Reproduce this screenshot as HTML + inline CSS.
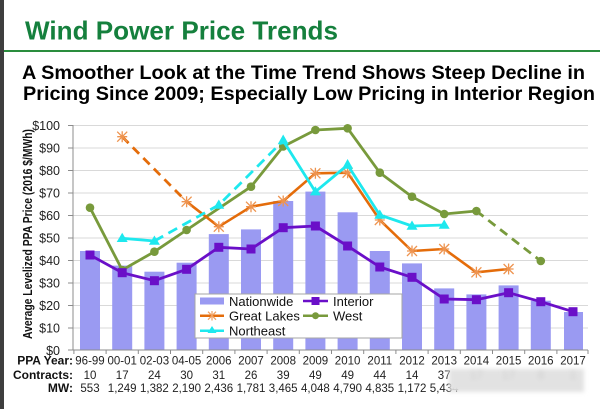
<!DOCTYPE html>
<html><head><meta charset="utf-8"><style>
html,body{margin:0;padding:0;background:#fff;}
svg{display:block;font-family:"Liberation Sans",Arial,sans-serif;}
</style></head><body>
<svg width="600" height="409" viewBox="0 0 600 409" xmlns="http://www.w3.org/2000/svg">
<defs>
<filter id="bl" x="-10%" y="-50%" width="120%" height="200%"><feGaussianBlur stdDeviation="2.2"/></filter>
</defs>
<rect x="0" y="0" width="600" height="409" fill="#fff"/>
<rect x="0" y="0" width="4" height="409" fill="#3e3e3e"/>
<text x="25" y="39.5" font-size="26" font-weight="bold" fill="#15803d" textLength="313" lengthAdjust="spacingAndGlyphs">Wind Power Price Trends</text>
<rect x="4" y="50" width="596" height="2" fill="#2a8d3e"/>
<text x="22" y="79" font-size="19.5" font-weight="bold" fill="#000" textLength="563" lengthAdjust="spacingAndGlyphs">A Smoother Look at the Time Trend Shows Steep Decline in</text>
<text x="23" y="100" font-size="19.5" font-weight="bold" fill="#000" textLength="572" lengthAdjust="spacingAndGlyphs">Pricing Since 2009; Especially Low Pricing in Interior Region</text>

<!-- gridlines -->
<g stroke="#d9d9d9" stroke-width="1">
<line x1="73" y1="125.5" x2="588" y2="125.5"/>
<line x1="73" y1="148" x2="588" y2="148"/>
<line x1="73" y1="170.5" x2="588" y2="170.5"/>
<line x1="73" y1="193" x2="588" y2="193"/>
<line x1="73" y1="215.5" x2="588" y2="215.5"/>
<line x1="73" y1="238" x2="588" y2="238"/>
<line x1="73" y1="260.5" x2="588" y2="260.5"/>
<line x1="73" y1="283" x2="588" y2="283"/>
<line x1="73" y1="305.5" x2="588" y2="305.5"/>
<line x1="73" y1="328" x2="588" y2="328"/>
</g>
<!-- y ticks -->
<g stroke="#8c8c8c" stroke-width="1">
<line x1="73" y1="125" x2="73" y2="350"/>
<line x1="68" y1="125.5" x2="73" y2="125.5"/>
<line x1="68" y1="148" x2="73" y2="148"/>
<line x1="68" y1="170.5" x2="73" y2="170.5"/>
<line x1="68" y1="193" x2="73" y2="193"/>
<line x1="68" y1="215.5" x2="73" y2="215.5"/>
<line x1="68" y1="238" x2="73" y2="238"/>
<line x1="68" y1="260.5" x2="73" y2="260.5"/>
<line x1="68" y1="283" x2="73" y2="283"/>
<line x1="68" y1="305.5" x2="73" y2="305.5"/>
<line x1="68" y1="328" x2="73" y2="328"/>
<line x1="68" y1="350" x2="73" y2="350"/>
</g>
<g font-size="12.5" fill="#222" text-anchor="end">
<text x="60" y="130">$100</text>
<text x="60" y="152.5">$90</text>
<text x="60" y="175">$80</text>
<text x="60" y="197.5">$70</text>
<text x="60" y="220">$60</text>
<text x="60" y="242.5">$50</text>
<text x="60" y="265">$40</text>
<text x="60" y="287.5">$30</text>
<text x="60" y="310">$20</text>
<text x="60" y="332.5">$10</text>
<text x="60" y="355">$0</text>
</g>
<text transform="translate(32,234) rotate(-90)" text-anchor="middle" font-size="12.5" font-weight="bold" fill="#111" textLength="210" lengthAdjust="spacingAndGlyphs">Average Levelized PPA Price (2016 $/MWh)</text>

<!-- bars -->
<g fill="#9a9af2">
<rect x="80" y="251" width="20" height="99"/>
<rect x="112.2" y="265.6" width="20" height="84.4"/>
<rect x="144.4" y="271.7" width="20" height="78.3"/>
<rect x="176.6" y="262.7" width="20" height="87.3"/>
<rect x="208.8" y="234.1" width="20" height="115.9"/>
<rect x="241" y="229.4" width="20" height="120.6"/>
<rect x="273.2" y="201" width="20" height="149"/>
<rect x="305.4" y="191.6" width="20" height="158.4"/>
<rect x="337.6" y="212.3" width="20" height="137.7"/>
<rect x="369.8" y="251" width="20" height="99"/>
<rect x="402" y="263.4" width="20" height="86.6"/>
<rect x="434.2" y="288.4" width="20" height="61.6"/>
<rect x="466.4" y="294.4" width="20" height="55.6"/>
<rect x="498.6" y="285.4" width="20" height="64.6"/>
<rect x="530.8" y="300.7" width="20" height="49.3"/>
<rect x="564" y="312" width="19" height="38"/>
</g>

<!-- x axis -->
<g stroke="#8c8c8c" stroke-width="1">
<line x1="71" y1="350" x2="588" y2="350"/>
<line x1="73.9" y1="350" x2="73.9" y2="354"/>
<line x1="106.1" y1="350" x2="106.1" y2="354"/>
<line x1="138.3" y1="350" x2="138.3" y2="354"/>
<line x1="170.5" y1="350" x2="170.5" y2="354"/>
<line x1="202.7" y1="350" x2="202.7" y2="354"/>
<line x1="234.9" y1="350" x2="234.9" y2="354"/>
<line x1="267.1" y1="350" x2="267.1" y2="354"/>
<line x1="299.3" y1="350" x2="299.3" y2="354"/>
<line x1="331.5" y1="350" x2="331.5" y2="354"/>
<line x1="363.7" y1="350" x2="363.7" y2="354"/>
<line x1="395.9" y1="350" x2="395.9" y2="354"/>
<line x1="428.1" y1="350" x2="428.1" y2="354"/>
<line x1="460.3" y1="350" x2="460.3" y2="354"/>
<line x1="492.5" y1="350" x2="492.5" y2="354"/>
<line x1="524.7" y1="350" x2="524.7" y2="354"/>
<line x1="556.9" y1="350" x2="556.9" y2="354"/>
<line x1="588" y1="350" x2="588" y2="354"/>
</g>

<!-- legend -->
<rect x="195" y="294" width="207" height="44" fill="#fff" stroke="#a6a6a6" stroke-width="1"/>
<rect x="200" y="297.5" width="24" height="7" fill="#9a9af2"/>
<line x1="200" y1="315.7" x2="224" y2="315.7" stroke="#e46c0a" stroke-width="2.5"/>
<g stroke="#f0a060" stroke-width="1.2"><line x1="208" y1="311.7" x2="216" y2="319.7"/><line x1="216" y1="311.7" x2="208" y2="319.7"/><line x1="212" y1="311" x2="212" y2="320.5"/></g>
<line x1="200" y1="330.7" x2="224" y2="330.7" stroke="#1ee8ee" stroke-width="2.5"/>
<polygon points="212,326 216.5,333 207.5,333" fill="#1ee8ee"/>
<line x1="303" y1="301" x2="328" y2="301" stroke="#6a0fc8" stroke-width="2.5"/>
<rect x="311.5" y="297" width="8" height="8" fill="#6a0fc8"/>
<line x1="303" y1="315.7" x2="328" y2="315.7" stroke="#789a3c" stroke-width="2.5"/>
<circle cx="315.5" cy="315.7" r="3.5" fill="#789a3c"/>
<g font-size="13" fill="#111">
<text x="229" y="306">Nationwide</text>
<text x="229" y="320.5">Great Lakes</text>
<text x="229" y="335.5">Northeast</text>
<text x="333" y="306">Interior</text>
<text x="333" y="320.5">West</text>
</g>

<!-- West -->
<polyline fill="none" stroke="#789a3c" stroke-width="2.8" stroke-linejoin="round" points="90,207.7 122.2,270 154.4,251.7 186.6,230 251,186.7 283.2,146.5 315.4,130 347.6,128.3 379.8,172.7 412,196.7 444.2,214 476.4,211"/>
<line x1="476.4" y1="211" x2="540.8" y2="261" stroke="#789a3c" stroke-width="2.8" stroke-dasharray="9,6"/>
<g fill="#789a3c">
<circle cx="90" cy="207.7" r="4.3"/><circle cx="122.2" cy="270" r="4.3"/><circle cx="154.4" cy="251.7" r="4.3"/><circle cx="186.6" cy="230" r="4.3"/><circle cx="251" cy="186.7" r="4.3"/><circle cx="283.2" cy="146.5" r="4.3"/><circle cx="315.4" cy="130" r="4.3"/><circle cx="347.6" cy="128.3" r="4.3"/><circle cx="379.8" cy="172.7" r="4.3"/><circle cx="412" cy="196.7" r="4.3"/><circle cx="444.2" cy="214" r="4.3"/><circle cx="476.4" cy="211" r="4.3"/><circle cx="540.8" cy="261" r="4.3"/>
</g>

<!-- Great Lakes -->
<line x1="122.2" y1="136.7" x2="186.6" y2="201.7" stroke="#e46c0a" stroke-width="2.8" stroke-dasharray="9,6"/>
<polyline fill="none" stroke="#e46c0a" stroke-width="2.6" stroke-linejoin="round" points="186.6,201.7 218.8,226.7 251,206.7 283.2,201 315.4,173.3 347.6,172.7 379.8,220 412,251 444.2,249 476.4,272.3 508.6,269"/>
<g stroke="#ee9450" stroke-width="1.3">
<path d="M117.2,131.7l10,10M127.2,131.7l-10,10M117.2,136.7h10M122.2,131.2v11"/>
<path d="M181.6,196.7l10,10M191.6,196.7l-10,10M181.6,201.7h10M186.6,196.2v11"/>
<path d="M213.8,221.7l10,10M223.8,221.7l-10,10M213.8,226.7h10M218.8,221.2v11"/>
<path d="M246,201.7l10,10M256,201.7l-10,10M246,206.7h10M251,201.2v11"/>
<path d="M278.2,196l10,10M288.2,196l-10,10M278.2,201h10M283.2,195.5v11"/>
<path d="M310.4,168.3l10,10M320.4,168.3l-10,10M310.4,173.3h10M315.4,167.8v11"/>
<path d="M342.6,167.7l10,10M352.6,167.7l-10,10M342.6,172.7h10M347.6,167.2v11"/>
<path d="M374.8,215l10,10M384.8,215l-10,10M374.8,220h10M379.8,214.5v11"/>
<path d="M407,246l10,10M417,246l-10,10M407,251h10M412,245.5v11"/>
<path d="M439.2,244l10,10M449.2,244l-10,10M439.2,249h10M444.2,243.5v11"/>
<path d="M471.4,267.3l10,10M481.4,267.3l-10,10M471.4,272.3h10M476.4,266.8v11"/>
<path d="M503.6,264l10,10M513.6,264l-10,10M503.6,269h10M508.6,263.5v11"/>
</g>

<!-- Northeast -->
<line x1="122.2" y1="238.3" x2="154.4" y2="241" stroke="#1ee8ee" stroke-width="2.8"/>
<polyline fill="none" stroke="#1ee8ee" stroke-width="2.8" stroke-dasharray="10,6" points="154.4,241 218.8,205 283.2,140.7"/>
<polyline fill="none" stroke="#1ee8ee" stroke-width="2.8" stroke-linejoin="round" points="283.2,140.7 315.4,191.7 347.6,165 379.8,215 412,226 444.2,225"/>
<g fill="#1ee8ee">
<polygon points="122.2,232.8 127.7,242 116.7,242"/>
<polygon points="154.4,235.5 159.9,244.7 148.9,244.7"/>
<polygon points="218.8,199.5 224.3,208.7 213.3,208.7"/>
<polygon points="283.2,134.5 288.7,144.2 277.7,144.2"/>
<polygon points="315.4,186.2 320.9,195.4 309.9,195.4"/>
<polygon points="347.6,159 353.1,168.7 342.1,168.7"/>
<polygon points="379.8,209.5 385.3,218.7 374.3,218.7"/>
<polygon points="412,220.5 417.5,229.7 406.5,229.7"/>
<polygon points="444.2,219.5 449.7,228.7 438.7,228.7"/>
</g>

<!-- Interior -->
<polyline fill="none" stroke="#6a0fc8" stroke-width="2.8" stroke-linejoin="round" points="90,255 122.2,272.7 154.4,280.7 186.6,269.3 218.8,247.3 251,249 283.2,227.7 315.4,226 347.6,246 379.8,267 412,277.3 444.2,299 476.4,299.7 508.6,292.7 540.8,301.7 573,311.7"/>
<g fill="#6a0fc8">
<rect x="85.5" y="250.5" width="9" height="9"/><rect x="117.7" y="268.2" width="9" height="9"/><rect x="149.9" y="276.2" width="9" height="9"/><rect x="182.1" y="264.8" width="9" height="9"/><rect x="214.3" y="242.8" width="9" height="9"/><rect x="246.5" y="244.5" width="9" height="9"/><rect x="278.7" y="223.2" width="9" height="9"/><rect x="310.9" y="221.5" width="9" height="9"/><rect x="343.1" y="241.5" width="9" height="9"/><rect x="375.3" y="262.5" width="9" height="9"/><rect x="407.5" y="272.8" width="9" height="9"/><rect x="439.7" y="294.5" width="9" height="9"/><rect x="471.9" y="295.2" width="9" height="9"/><rect x="504.1" y="288.2" width="9" height="9"/><rect x="536.3" y="297.2" width="9" height="9"/><rect x="568.5" y="307.2" width="9" height="9"/>
</g>

<!-- bottom labels -->
<g font-size="12" font-weight="bold" fill="#111" text-anchor="end">
<text x="73" y="364.5">PPA Year:</text>
<text x="73" y="379">Contracts:</text>
<text x="73" y="392">MW:</text>
</g>
<g font-size="11.5" fill="#222" text-anchor="middle">
<text x="90" y="364.5">96-99</text><text x="122.2" y="364.5">00-01</text><text x="154.4" y="364.5">02-03</text><text x="186.6" y="364.5">04-05</text><text x="218.8" y="364.5">2006</text><text x="251" y="364.5">2007</text><text x="283.2" y="364.5">2008</text><text x="315.4" y="364.5">2009</text><text x="347.6" y="364.5">2010</text><text x="379.8" y="364.5">2011</text><text x="412" y="364.5">2012</text><text x="444.2" y="364.5">2013</text><text x="476.4" y="364.5">2014</text><text x="508.6" y="364.5">2015</text><text x="540.8" y="364.5">2016</text><text x="573" y="364.5">2017</text>
<text x="90" y="379">10</text><text x="122.2" y="379">17</text><text x="154.4" y="379">24</text><text x="186.6" y="379">30</text><text x="218.8" y="379">31</text><text x="251" y="379">26</text><text x="283.2" y="379">39</text><text x="315.4" y="379">49</text><text x="347.6" y="379">49</text><text x="379.8" y="379">44</text><text x="412" y="379">14</text><text x="444.2" y="379">37</text>
<text x="90" y="392">553</text><text x="122.2" y="392">1,249</text><text x="154.4" y="392">1,382</text><text x="186.6" y="392">2,190</text><text x="218.8" y="392">2,436</text><text x="251" y="392">1,781</text><text x="283.2" y="392">3,465</text><text x="315.4" y="392">4,048</text><text x="347.6" y="392">4,790</text><text x="379.8" y="392">4,835</text><text x="412" y="392">1,172</text><text x="444.2" y="392">5,434</text>
</g>
<!-- blurred region -->
<rect x="449" y="369" width="135" height="23" fill="#e2e2e2" filter="url(#bl)"/>
<g font-size="12" fill="#cfcfcf" text-anchor="middle" filter="url(#bl)">
<text x="476.4" y="379">17</text><text x="508.6" y="379">17</text><text x="540.8" y="379">8</text><text x="573" y="379">1</text>
</g>
</svg>
</body></html>
